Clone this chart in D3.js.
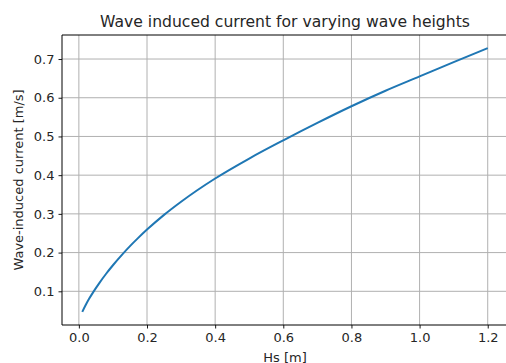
<!DOCTYPE html>
<html>
<head>
<meta charset="utf-8">
<script src="https://cdn.jsdelivr.net/npm/d3@7"></script>
<style>
  body { margin: 0; background: #fff; }
  text { font-family: "DejaVu Sans", sans-serif; fill: #262626; }
</style>
</head>
<body>
<div id="chart-area"></div>
<script>
// wave height Hs [m] and the read-off wave induced current [m/s]
var hs = [0.01, 0.02, 0.03, 0.045, 0.06, 0.08, 0.10, 0.125, 0.15, 0.175, 0.2, 0.25, 0.3, 0.4, 0.5, 0.6, 0.7, 0.8, 0.9, 1.0, 1.1, 1.2];
var current = [0.047, 0.0645, 0.0805, 0.1018, 0.1213, 0.1453, 0.1673, 0.1928, 0.2166, 0.2386, 0.2594, 0.2974, 0.3314, 0.3914, 0.443, 0.490, 0.535, 0.578, 0.618, 0.655, 0.692, 0.728];

var xTicks = [0.0, 0.2, 0.4, 0.6, 0.8, 1.0, 1.2];
var yTicks = [0.1, 0.2, 0.3, 0.4, 0.5, 0.6, 0.7];

var margin = { left: 62, right: -2, top: 35, bottom: 38 };
var width = 506 - margin.left - margin.right,
    height = 363 - margin.top - margin.bottom;

var svg = d3.select("#chart-area")
    .append("svg")
    .attr("width", 506)
    .attr("height", 363);

var g = svg.append("g")
    .attr("transform", "translate(" + margin.left + "," + margin.top + ")");

// matplotlib style 5% margins
var xPad = (d3.max(hs) - d3.min(hs)) * 0.05;
var yPad = (d3.max(current) - d3.min(current)) * 0.05;

var x = d3.scaleLinear()
    .domain([d3.min(hs) - xPad, d3.max(hs) + xPad])
    .range([0, width]);

var y = d3.scaleLinear()
    .domain([d3.min(current) - yPad, d3.max(current) + yPad])
    .range([height, 0]);

// grid
g.append("g").selectAll("line")
    .data(xTicks).enter().append("line")
    .attr("x1", function(d){ return x(d); })
    .attr("x2", function(d){ return x(d); })
    .attr("y1", 0).attr("y2", height)
    .attr("stroke", "#b0b0b0").attr("stroke-width", 1);

g.append("g").selectAll("line")
    .data(yTicks).enter().append("line")
    .attr("y1", function(d){ return y(d); })
    .attr("y2", function(d){ return y(d); })
    .attr("x1", 0).attr("x2", width)
    .attr("stroke", "#b0b0b0").attr("stroke-width", 1);

// axes
var xAxisCall = d3.axisBottom(x)
    .tickValues(xTicks)
    .tickSize(3.5)
    .tickPadding(4)
    .tickFormat(d3.format(".1f"));
var xAxis = g.append("g")
    .attr("class", "x-axis")
    .attr("transform", "translate(0," + height + ")")
    .call(xAxisCall);

var yAxisCall = d3.axisLeft(y)
    .tickValues(yTicks)
    .tickSize(3.5)
    .tickPadding(4)
    .tickFormat(d3.format(".1f"));
var yAxis = g.append("g")
    .attr("class", "y-axis")
    .call(yAxisCall);

[xAxis, yAxis].forEach(function(a){
    a.select(".domain").remove();
    a.selectAll("line").attr("stroke", "#000").attr("stroke-width", 0.9);
    a.selectAll("text")
        .attr("font-family", "DejaVu Sans")
        .attr("font-size", "13px")
        .attr("fill", "#262626");
});

// spines (left, top, bottom; right falls just outside)
g.append("line").attr("x1", 0).attr("x2", 0).attr("y1", 0).attr("y2", height)
    .attr("stroke", "#000").attr("stroke-width", 1);
g.append("line").attr("x1", 0).attr("x2", width).attr("y1", 0).attr("y2", 0)
    .attr("stroke", "#000").attr("stroke-width", 1);
g.append("line").attr("x1", 0).attr("x2", width).attr("y1", height).attr("y2", height)
    .attr("stroke", "#000").attr("stroke-width", 1);

// line
var line = d3.line()
    .x(function(d, i){ return x(hs[i]); })
    .y(function(d){ return y(d); })
    .curve(d3.curveMonotoneX);

g.append("path")
    .datum(current)
    .attr("d", line)
    .attr("fill", "none")
    .attr("stroke", "#1f77b4")
    .attr("stroke-width", 2);

// labels
svg.append("text")
    .attr("x", margin.left + width / 2)
    .attr("y", 27)
    .attr("font-size", "15.6px")
    .attr("text-anchor", "middle")
    .text("Wave induced current for varying wave heights");

svg.append("text")
    .attr("x", margin.left + width / 2)
    .attr("y", 362)
    .attr("font-size", "13px")
    .attr("text-anchor", "middle")
    .text("Hs [m]");

svg.append("text")
    .attr("transform", "translate(23," + (margin.top + height / 2) + ") rotate(-90)")
    .attr("font-size", "13px")
    .attr("text-anchor", "middle")
    .text("Wave-induced current [m/s]");
</script>
</body>
</html>
